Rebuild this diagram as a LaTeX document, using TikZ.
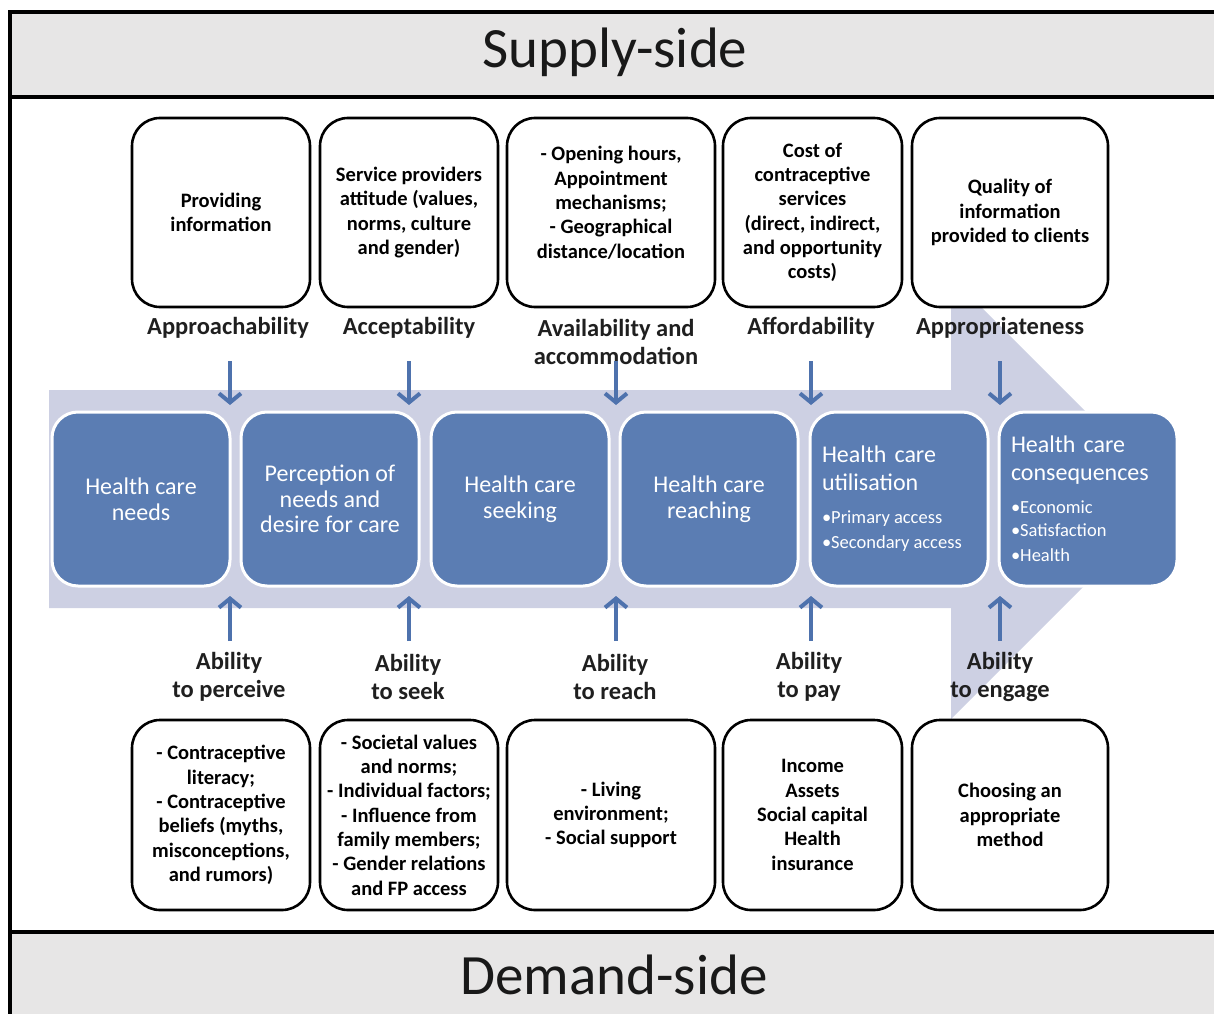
\documentclass[tikz,border=0pt]{standalone}
\usepackage{fontspec}
\setmainfont{Carlito}
\usetikzlibrary{arrows.meta}
\definecolor{bandgray}{HTML}{E7E6E6}
\definecolor{shaftc}{HTML}{CDD0E3}
\definecolor{boxblue}{HTML}{5B7DB3}
\definecolor{arrblue}{HTML}{4E72AD}
\newcommand{\bulsp}{\hspace{4pt}}
\begin{document}
\begin{tikzpicture}[x=1pt,y=-1pt,
  factorbox/.style={draw=black, line width=2.6pt, rounded corners=28pt, fill=white, align=center,
    font=\bfseries\fontsize{20.5}{24.3}\selectfont, inner xsep=0pt, inner ysep=2pt},
  stagebox/.style={draw=white, line width=3pt, rounded corners=26pt, fill=boxblue, text=white,
    minimum width=178pt, minimum height=174pt, font=\fontsize{24}{25.5}\selectfont, align=center},
  dimlabel/.style={font=\bfseries\fontsize{24.5}{28}\selectfont, align=center, text=black!88},
  flowarrow/.style={draw=arrblue, line width=4pt, -{Straight Barb[length=9pt,width=22pt,line width=4pt]}},
  bandtitle/.style={font=\fontsize{57}{60}\selectfont, text=black!90},
]
\useasboundingbox (0,0) rectangle (1214,1014);

% bands and frame
\fill[bandgray] (10,12) rectangle (1214,97);
\fill[bandgray] (10,932) rectangle (1214,1014);
\draw[line width=4pt] (1214,12) -- (10,12) -- (10,1014);
\draw[line width=4pt] (10,97) -- (1214,97);
\draw[line width=4pt] (10,932) -- (1214,932);
\node[bandtitle] (supply) at (615,52) {Supply-side};
\node[bandtitle] (demand) at (614,975) {Demand-side};

% big arrow
\fill[shaftc] (49,390) -- (951,390) -- (951,277) -- (1172,498) -- (951,719) -- (951,608) -- (49,608) -- cycle;

% supply-side factor boxes
\node[factorbox, minimum width=178pt, minimum height=189pt] (s1) at (221,212.5) {Providing\\information};
\node[factorbox, minimum width=178pt, minimum height=189pt] (s2) at (409,212.5) {Service providers\\attitude (values,\\norms, culture\\and gender)};
\node[factorbox, minimum width=208pt, minimum height=189pt] (s3) at (611,212.5) {- Opening hours,\\Appointment\\mechanisms;\\- Geographical\\distance/location\\[-4pt]};
\node[factorbox, minimum width=179pt, minimum height=189pt] (s4) at (812.5,212.5) {Cost of\\contraceptive\\services\\(direct, indirect,\\and opportunity\\costs)};
\node[factorbox, minimum width=196pt, minimum height=189pt] (s5) at (1010,212.5) {Quality of\\information\\provided to clients};

% demand-side factor boxes
\node[factorbox, minimum width=178pt, minimum height=190pt] (d1) at (221,815) {- Contraceptive\\literacy;\\- Contraceptive\\beliefs (myths,\\misconceptions,\\and rumors)};
\node[factorbox, minimum width=178pt, minimum height=190pt] (d2) at (409,815) {- Societal values\\and norms;\\- Individual factors;\\- Influence from\\family members;\\- Gender relations\\and FP access};
\node[factorbox, minimum width=208pt, minimum height=190pt] (d3) at (611,815) {- Living\\environment;\\- Social support};
\node[factorbox, minimum width=179pt, minimum height=190pt] (d4) at (812.5,815) {Income\\Assets\\Social capital\\Health\\insurance};
\node[factorbox, minimum width=196pt, minimum height=190pt] (d5) at (1010,815) {Choosing an\\appropriate\\method};

% stage boxes
\node[stagebox] (b1) at (141,499) {Health care\\needs};
\node[stagebox] (b2) at (330,499) {Perception of\\needs and\\desire for care};
\node[stagebox] (b3) at (520,499) {Health care\\seeking};
\node[stagebox] (b4) at (709,499) {Health care\\reaching};
\node[stagebox, align=left, text width=154pt] (b5) at (899,499) {Health care\\[2pt]utilisation\\[10pt]\fontsize{18.5}{23}\selectfont\textbullet Primary\bulsp access\\\textbullet Secondary\bulsp access};
\node[stagebox, align=left, text width=154pt] (b6) at (1088,499) {Health care\\[2pt]consequences\\[10pt]\fontsize{18.5}{23}\selectfont\textbullet Economic\\\textbullet Satisfaction\\\textbullet Health};

% supply-side dimension labels
\node[dimlabel] (l1) at (228,328) {Approachability};
\node[dimlabel] (l2) at (409,328) {Acceptability};
\node[dimlabel] (l3) at (616,342) {Availability and\\accommodation};
\node[dimlabel] (l4) at (811,328) {Affordability};
\node[dimlabel] (l5) at (1000,328) {Appropriateness};

% demand-side dimension labels
\node[dimlabel] (m1) at (229,677) {Ability\\to perceive};
\node[dimlabel] (m2) at (408,677) {Ability\\to seek};
\node[dimlabel] (m3) at (615,677) {Ability\\to reach};
\node[dimlabel] (m4) at (809,677) {Ability\\to pay};
\node[dimlabel] (m5) at (1000,677) {Ability\\to engage};

% arrow end points
\foreach \i/\x in {1/230,2/409,3/616,4/811,5/1000}{
  \coordinate (dt\i) at (\x,361);
  \coordinate (dh\i) at (\x,405);
  \coordinate (ut\i) at (\x,641);
  \coordinate (uh\i) at (\x,596);
}
\foreach \i in {1,...,5}{
  \draw[flowarrow] (dt\i) -- (dh\i);
  \draw[flowarrow] (ut\i) -- (uh\i);
}
\end{tikzpicture}
\end{document}
